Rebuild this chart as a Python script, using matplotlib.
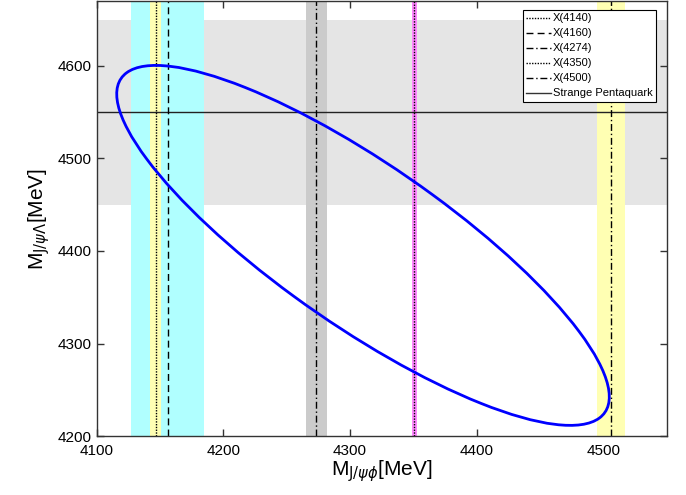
import matplotlib
matplotlib.use("Agg")
import matplotlib.pyplot as plt
from matplotlib.patches import Ellipse
from matplotlib.lines import Line2D

plt.rcParams['font.family'] = ['Liberation Sans', 'DejaVu Sans']
plt.rcParams['mathtext.fontset'] = 'dejavusans'

# ---- data ----
state_names = ['X(4140)', 'X(4160)', 'X(4274)', 'X(4350)', 'X(4500)']
state_masses = [4146.5, 4156.0, 4273.3, 4350.6, 4506.0]
band_lo = [4142.0, 4127.0, 4265.0, 4348.7, 4495.0]
band_hi = [4151.0, 4185.0, 4281.6, 4352.5, 4517.0]

penta_name = 'Strange Pentaquark'
penta_mass = 4550.0
penta_lo = 4450.0
penta_hi = 4650.0

# kinematic boundary (ellipse): centre, full axes, rotation
ell_center = (4310.2, 4406.0)
ell_width = 527.6
ell_height = 155.0
ell_angle = -45.0

xlim = (4100, 4550)
ylim = (4200, 4670)
xticks = [4100, 4200, 4300, 4400, 4500]
yticks = [4200, 4300, 4400, 4500, 4600]

# ---- styles ----
band_colors = ['#ffffb3', '#b0ffff', '#cbcbcb', '#ff88ff', '#ffffb3']
band_z = [2.2, 2.0, 2.0, 2.0, 2.0]
line_styles = [(0, (1, 1)), (0, (5, 3)), (0, (5, 2, 1, 2)), (0, (1, 1)), (0, (5, 2, 1, 2))]

fig = plt.figure(figsize=(6.86, 4.95), dpi=100)
ax = fig.add_axes([0.141, 0.119, 0.831, 0.879])

ax.axhspan(penta_lo, penta_hi, color='#e5e5e5', lw=0, zorder=1)
for lo, hi, c, z in zip(band_lo, band_hi, band_colors, band_z):
    ax.axvspan(lo, hi, color=c, lw=0, zorder=z)

ax.axhline(penta_mass, color='#222222', lw=1.0, zorder=3)

handles = []
for name, m, ls in zip(state_names, state_masses, line_styles):
    h = ax.axvline(m, color='black', lw=1.0, linestyle=ls, zorder=4, label=name)
    handles.append(h)
handles.append(Line2D([], [], color='#333333', lw=1.0, label=penta_name))

ell = Ellipse(ell_center, ell_width, ell_height, angle=ell_angle,
              fill=False, edgecolor='#0000ff', lw=2.0, zorder=5)
ax.add_patch(ell)

ax.set_xlim(*xlim)
ax.set_ylim(*ylim)
ax.set_xticks(xticks)
ax.set_yticks(yticks)
ax.tick_params(direction='in', length=5, width=1, labelsize=11,
               top=True, right=True, colors='#333333', labelcolor='black')
ax.tick_params(axis='x', pad=6)
ax.tick_params(axis='y', pad=4)
for s in ax.spines.values():
    s.set_linewidth(1.0)
    s.set_color('#333333')
    s.set_zorder(10)

ax.set_xlabel(r'M$_{\mathrm{J}/\psi\phi}$[MeV]', fontsize=15, labelpad=0)
ax.set_ylabel(r'M$_{\mathrm{J}/\psi\Lambda}$[MeV]', fontsize=15, labelpad=4)

leg = ax.legend(handles=handles, loc='upper right', bbox_to_anchor=(0.981, 0.979),
                borderaxespad=0, fontsize=8, fancybox=False, framealpha=1,
                edgecolor='black', labelspacing=0.45, handlelength=2.2,
                handletextpad=0.2, borderpad=0.3)
leg.get_frame().set_linewidth(0.8)
leg.set_zorder(20)

fig.savefig('out.png', dpi=100)
